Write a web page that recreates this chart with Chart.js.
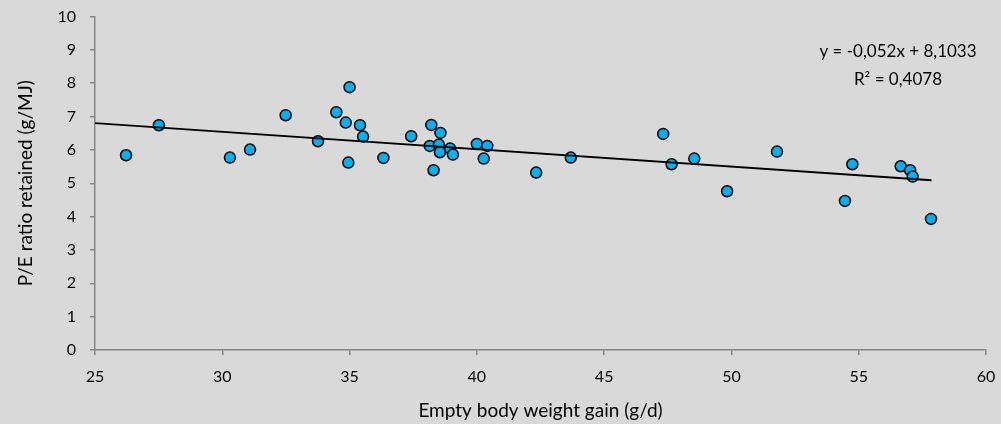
<!DOCTYPE html>
<html>
<head>
<meta charset="utf-8">
<script src="https://cdn.jsdelivr.net/npm/chart.js@4/dist/chart.umd.min.js"></script>
<style>
  html, body { margin: 0; padding: 0; background: #d9d9d9; }
  #wrap { width: 1001px; height: 424px; position: relative; }
</style>
</head>
<body>
<div id="wrap"><canvas id="c"></canvas></div>
<script>
// Empty body weight gain (g/d)
const gainX = [26.22, 27.51, 30.30, 31.09, 32.49, 33.76, 34.48, 34.85, 35.00, 34.95,
               35.41, 35.53, 36.33, 37.42, 38.21, 38.15, 38.57, 38.51, 38.55, 38.30,
               38.95, 39.06, 40.00, 40.41, 40.27, 42.33, 43.69, 47.32, 47.65, 48.54,
               49.83, 51.79, 54.75, 54.46, 56.65, 57.02, 57.12, 57.84];
// P/E ratio retained (g/MJ)
const ratioY = [5.84, 6.74, 5.77, 6.01, 7.04, 6.26, 7.13, 6.82, 7.88, 5.62,
                6.74, 6.40, 5.76, 6.41, 6.75, 6.12, 6.51, 6.16, 5.93, 5.39,
                6.04, 5.86, 6.18, 6.12, 5.74, 5.32, 5.77, 6.48, 5.57, 5.74,
                4.76, 5.95, 5.57, 4.47, 5.51, 5.39, 5.20, 3.93];
// Linear trendline end points
const trendX = [25, 57.86];
const trendY = [6.80, 5.09];
const xTicks = [25, 30, 35, 40, 45, 50, 55, 60];
const yTicks = [0, 1, 2, 3, 4, 5, 6, 7, 8, 9, 10];
const equationLines = ['y = -0,052x + 8,1033', 'R\u00B2 = 0,4078'];

const FONT = 'Lato, "Open Sans", sans-serif';

const points = gainX.map((x, i) => ({ x: x, y: ratioY[i] }));
const trend = trendX.map((x, i) => ({ x: x, y: trendY[i] }));

const eqPlugin = {
  id: 'eq',
  afterDraw(chart) {
    const ctx = chart.ctx;
    ctx.save();
    ctx.fillStyle = '#000';
    ctx.font = '17px ' + FONT;
    ctx.textAlign = 'center';
    ctx.textBaseline = 'middle';
    ctx.fillText(equationLines[0], 898, 52);
    ctx.fillText(equationLines[1], 898, 80);
    ctx.restore();
  }
};

new Chart(document.getElementById('c'), {
  type: 'scatter',
  data: {
    datasets: [
      {
        label: 'Trend',
        data: trend,
        showLine: true,
        borderColor: '#000000',
        borderWidth: 1.8,
        pointRadius: 0,
        pointHoverRadius: 0,
        fill: false
      },
      {
        label: 'P/E',
        data: points,
        backgroundColor: '#00b0f0',
        borderColor: '#000000',
        borderWidth: 1.5,
        pointRadius: 5.5,
        pointHoverRadius: 5.5
      }
    ]
  },
  options: {
    responsive: true,
    maintainAspectRatio: false,
    animation: false,
    events: [],
    layout: { padding: { top: 16.5, right: 15, left: 0, bottom: 0 } },
    plugins: { legend: { display: false }, tooltip: { enabled: false } },
    scales: {
      x: {
        type: 'linear',
        min: 25, max: 60,
        afterBuildTicks: (s) => { s.ticks = xTicks.map(v => ({ value: v })); },
        afterFit: (s) => { s.height = 74; s.paddingLeft = 0; s.paddingRight = 0; },
        border: { display: true, color: '#868686', width: 1.5 },
        grid: { display: true, drawOnChartArea: false, drawTicks: true, tickLength: 5, color: '#868686', lineWidth: 1.5 },
        ticks: { color: '#000', font: { family: FONT, size: 16 }, padding: 12, maxRotation: 0 },
        title: { display: true, text: 'Empty body weight gain (g/d)', color: '#000', font: { family: FONT, size: 19 }, padding: { top: 0, bottom: 2 } }
      },
      y: {
        type: 'linear',
        min: 0, max: 10,
        afterBuildTicks: (s) => { s.ticks = yTicks.map(v => ({ value: v })); },
        afterFit: (s) => { s.width = 95; s.paddingTop = 0; s.paddingBottom = 0; },
        border: { display: true, color: '#868686', width: 1.5 },
        grid: { display: true, drawOnChartArea: false, drawTicks: true, tickLength: 5, color: '#868686', lineWidth: 1.5 },
        ticks: { color: '#000', font: { family: FONT, size: 16 }, padding: 14 },
        title: { display: true, text: 'P/E ratio retained (g/MJ)', color: '#000', font: { family: FONT, size: 19 }, padding: { top: 14, bottom: 0 } }
      }
    }
  },
  plugins: [eqPlugin]
});
</script>
</body>
</html>
